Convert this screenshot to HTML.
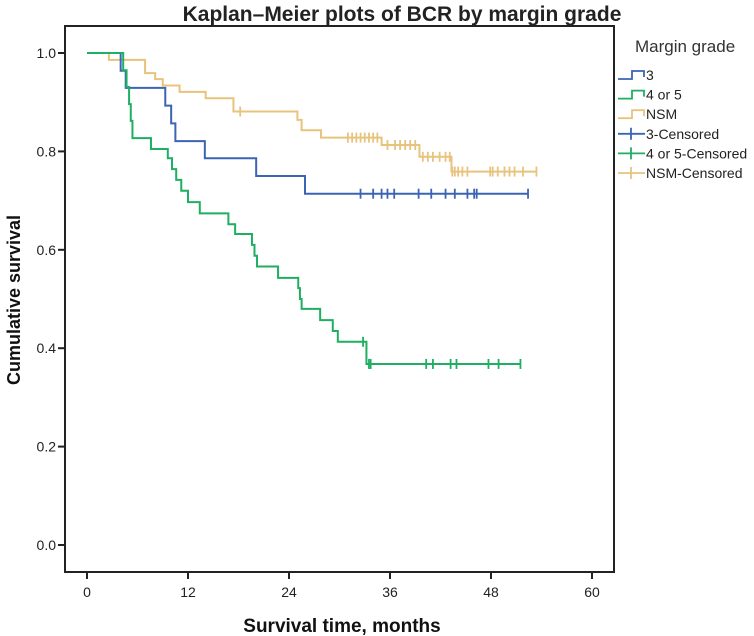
<!DOCTYPE html>
<html><head><meta charset="utf-8"><style>
body{margin:0;background:#fff;}
svg{display:block;font-family:"Liberation Sans",Arial,sans-serif;}
</style></head><body>
<svg id="chart" width="754" height="636" viewBox="0 0 754 636">
<text x="402" y="21" text-anchor="middle" font-size="21" font-weight="bold" fill="#222">Kaplan–Meier plots of BCR by margin grade</text>
<rect x="65" y="26" width="549" height="546" fill="none" stroke="#222" stroke-width="2"/>
<g id="axes"></g>
<g id="series"></g>
<text transform="translate(20,300) rotate(-90)" text-anchor="middle" font-size="18" font-weight="bold" fill="#111">Cumulative survival</text>
<text x="342" y="632" text-anchor="middle" font-size="19" font-weight="bold" fill="#111">Survival time, months</text>
<g id="legend">
<text x="635" y="52" font-size="17" fill="#333">Margin grade</text>
</g>
</svg>
<script>
const xTicks=[0,12,24,36,48,60];
const yTicks=[0.0,0.2,0.4,0.6,0.8,1.0];
const seriesNames=["3","4 or 5","NSM"];
const seriesColors=["#3b64b5","#1fae62","#e8c37e"];
const g3Times=[0,4.0,4.6,9.3,10.0,10.5,14.0,20.1,25.9];
const g3Surv=[1.0,0.964,0.929,0.893,0.857,0.821,0.786,0.75,0.714];
const g3Cens=[32.5,34.0,35.0,35.7,36.5,39.4,40.9,42.6,43.7,45.2,46.0,46.3,52.4];
const g45Times=[0,4.3,4.7,5.0,5.2,5.4,7.6,9.6,10.1,10.6,11.2,12.0,13.4,16.8,17.6,19.6,19.9,20.2,22.7,25.1,25.3,25.5,27.7,29.2,29.8,33.2];
const g45Surv=[1.0,0.965,0.931,0.896,0.862,0.827,0.805,0.786,0.764,0.742,0.72,0.697,0.674,0.652,0.632,0.61,0.588,0.566,0.543,0.522,0.50,0.48,0.457,0.435,0.413,0.368];
const g45Cens=[32.8,33.5,33.7,40.3,41.1,43.2,43.9,47.7,48.9,51.5];
const nsmTimes=[0,2.6,6.9,8.1,9.0,11.0,14.1,17.4,25.0,25.5,27.8,35.0,39.5,43.3];
const nsmSurv=[1.0,0.986,0.959,0.947,0.934,0.921,0.908,0.881,0.864,0.843,0.828,0.813,0.789,0.759];
const nsmCens=[18.2,31,31.5,32,32.5,33,33.5,34,34.5,35.7,36.6,37.2,37.8,38.4,39.0,39.9,40.5,41.1,41.9,42.6,43.1,43.4,43.7,44.1,44.6,45.2,47.9,48.2,48.8,49.6,50.2,50.8,51.8,53.4];

const NS="http://www.w3.org/2000/svg";
function xs(t){return 87+t*(505/60);}
function ys(v){return 545-v*492;}
function mk(tag,attrs,parent){const e=document.createElementNS(NS,tag);for(const k in attrs)e.setAttribute(k,attrs[k]);parent.appendChild(e);return e;}

const axes=document.getElementById('axes');
xTicks.forEach(t=>{
  const l=mk('line',{x1:xs(t),x2:xs(t),y1:572,y2:579,stroke:'#222','stroke-width':2},axes);
  
  
  const tx=mk('text',{x:xs(t),y:597,'text-anchor':'middle','font-size':14,fill:'#222'},axes);
  tx.textContent=t;
  
  
});
yTicks.forEach(v=>{
  const l=mk('line',{x1:58,x2:65,y1:ys(v),y2:ys(v),stroke:'#222','stroke-width':2},axes);
  
  
  const tx=mk('text',{x:56,y:ys(v)+5,'text-anchor':'end','font-size':14,fill:'#222'},axes);
  tx.textContent=v.toFixed(1);
  
  
});

function stepVal(times,surv,t){let v=surv[0];for(let i=0;i<times.length;i++){if(times[i]<=t)v=surv[i];}return v;}
const sg=document.getElementById('series');
const all=[[g3Times,g3Surv,g3Cens],[g45Times,g45Surv,g45Cens],[nsmTimes,nsmSurv,nsmCens]];
const order=[2,0,1];
order.forEach(i=>{
  const [T,S,C]=all[i];
  const end=Math.max(T[T.length-1],C[C.length-1]);
  let d='M'+xs(T[0])+','+ys(S[0]);
  for(let k=1;k<T.length;k++){d+=' H'+xs(T[k])+' V'+ys(S[k]);}
  d+=' H'+xs(end);
  const p=mk('path',{d:d,fill:'none',stroke:seriesColors[i],'stroke-width':2},sg);
  
  
  C.forEach(t=>{
    const y=ys(stepVal(T,S,t));
    const c=mk('line',{x1:xs(t),x2:xs(t),y1:y-5,y2:y+5,stroke:seriesColors[i],'stroke-width':1.8},sg);
    
    
  });
});

const lg=document.getElementById('legend');
const labels=["3","4 or 5","NSM","3-Censored","4 or 5-Censored","NSM-Censored"];
labels.forEach((lab,k)=>{
  const y=75+k*19.6;
  const c=seriesColors[k%3];
  if(k<3){
    const p=mk('path',{d:`M618,${y+4} H632 V${y-4} H644 V${y+2}`,fill:'none',stroke:c,'stroke-width':1.8},lg);
    
    
  }else{
    const p=mk('path',{d:`M618,${y} H645 M631,${y-6} V${y+6}`,fill:'none',stroke:c,'stroke-width':1.8},lg);
    
    
  }
  const tx=mk('text',{x:646,y:y+5,'font-size':14,fill:'#222'},lg);
  tx.textContent=lab;
  
  
});
</script>
</body></html>
